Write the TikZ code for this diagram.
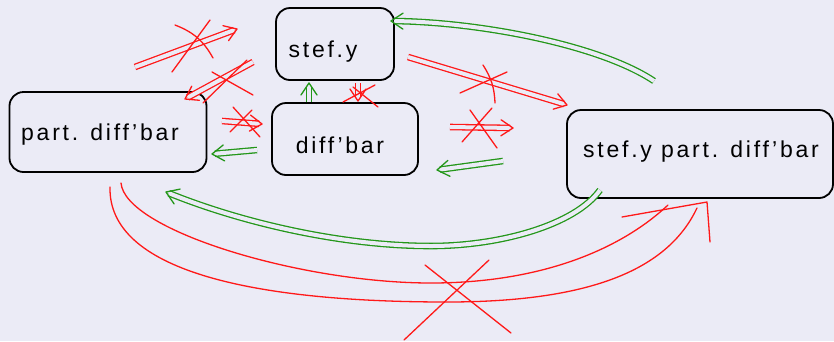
\documentclass[tikz,border=0pt]{standalone}
\usepackage{fontspec}
\setmainfont[LetterSpace=12]{Liberation Sans}
\usetikzlibrary{decorations.markings}
\definecolor{bg}{RGB}{235,235,246}
\definecolor{pred}{RGB}{255,25,25}
\definecolor{pgreen}{RGB}{35,150,25}
\begin{document}
\begin{tikzpicture}[x=1pt,y=-1pt,
  box/.style={draw=black, line width=1.8pt, rounded corners=14pt, inner sep=0pt},
  lbl/.style={inner sep=0pt, font=\fontsize{23}{26}\selectfont},
  dblarrow/.style={line width=1.3pt,
    preaction={draw=#1, double=bg, double distance=4pt, shorten >=3pt},
    postaction={decorate, decoration={markings, mark=at position 1 with
      {\draw[draw=#1, line width=1.3pt, line cap=round, line join=round] (-12pt,-8pt) -- (0pt,0pt) -- (-12pt,8pt);}}}},
  redarrow/.style={dblarrow=pred},
  greenarrow/.style={dblarrow=pgreen},
  redline/.style={draw=pred, line width=1.3pt, line cap=round, line join=round},
  crossline/.style={draw=pred, line width=1.3pt, line cap=round}]
\fill[bg] (0,0) rectangle (834,341);
\useasboundingbox (0,0) rectangle (834,341);

% boxes
\node[box, minimum width=118pt, minimum height=72pt] (sy) at (335,44) {};
\node[lbl] (sytext) at (323,52) {stef.y};
\node[box, minimum width=146pt, minimum height=72pt] (db) at (345,139) {};
\node[lbl] (dbtext) at (340,145) {diff'bar};
\node[box, minimum width=197pt, minimum height=80pt] (pdb) at (108,132) {};
\node[lbl] (pdbtext) at (100,135) {part. diff'bar};
\node[box, minimum width=266pt, minimum height=88pt] (spdb) at (700,154) {};
\node[lbl] (spdbtext) at (701,152) {stef.y part. diff'bar};

% connector end points
\coordinate (a1s) at (135,67);  \coordinate (a1e) at (237,29);
\coordinate (a2s) at (253,62);  \coordinate (a2e) at (185,99);
\coordinate (a3s) at (222,121); \coordinate (a3e) at (262,124);
\coordinate (a4s) at (257,150); \coordinate (a4e) at (212,154);
\coordinate (a5s) at (309,102); \coordinate (a5e) at (309,83);
\coordinate (a6s) at (358,83);  \coordinate (a6e) at (358,101);
\coordinate (a7s) at (654,81);  \coordinate (a7e) at (391,21);
\coordinate (a8s) at (408,57);  \coordinate (a8e) at (567,105);
\coordinate (a9s) at (450,127); \coordinate (a9e) at (513,128);
\coordinate (a10s) at (503,161); \coordinate (a10e) at (437,170);
\coordinate (a11s) at (600,190); \coordinate (a11m) at (431,246); \coordinate (a11e) at (166,192);
\coordinate (r1s) at (121,183); \coordinate (r1m) at (431,283); \coordinate (r1e) at (668,205);
\coordinate (r2s) at (110,187); \coordinate (r2m) at (447,302); \coordinate (r2e) at (697,208);
\coordinate (rh1) at (622,217); \coordinate (rht) at (707,202); \coordinate (rh2) at (710,242);

% bottom red (crossed) double arrow: part. diff'bar => stef.y part. diff'bar
\draw[redline] (r1s) .. controls (125,230) and (300,283) .. (r1m) .. controls (540,283) and (620,250) .. (r1e);
\draw[redline] (r2s) .. controls (108,270) and (250,302) .. (r2m) .. controls (600,302) and (670,265) .. (r2e);
\draw[redline] (rh1) -- (rht) -- (rh2);
\draw[crossline] (425,265) -- (511,333);
\draw[crossline] (489,260) -- (404,340);

% bottom green: stef.y part. diff'bar => part. diff'bar
\path[greenarrow] (a11s) .. controls (575,225) and (500,246) .. (a11m) .. controls (340,246) and (240,222) .. (a11e);

% red crossed arrows
\path[redarrow] (a1s) -- (a1e);
\draw[crossline] (175,25) to[bend left=20] (213,58);
\draw[crossline] (210,20) -- (172,72);

\path[redarrow] (a2s) -- (a2e);
\draw[crossline] (212,72) -- (253,95);
\draw[crossline] (247,60) -- (203,103);

\path[redarrow] (a3s) -- (a3e);
\draw[crossline] (233,107) -- (260,137);
\draw[crossline] (252,110) -- (230,132);

\path[redarrow] (a6s) -- (a6e);
\draw[crossline] (343,102) -- (375,85);
\draw[crossline] (353,87) -- (378,107);

\path[redarrow] (a8s) -- (a8e);
\draw[crossline] (460,93) -- (507,72);
\draw[crossline] (483,65) to[bend left=15] (495,103);

\path[redarrow] (a9s) -- (a9e);
\draw[crossline] (470,110) -- (497,148);
\draw[crossline] (492,108) -- (462,142);

% green arrows
\path[greenarrow] (a4s) -- (a4e);
\path[greenarrow] (a5s) -- (a5e);
\path[greenarrow] (a7s) .. controls (600,45) and (480,22) .. (a7e);
\path[greenarrow] (a10s) -- (a10e);
\end{tikzpicture}
\end{document}
